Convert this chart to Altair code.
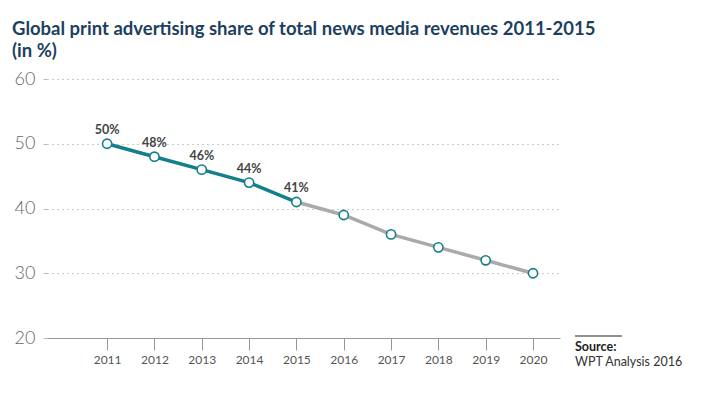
import altair as alt
import pandas as pd

years = [2011, 2012, 2013, 2014, 2015, 2016, 2017, 2018, 2019, 2020]
values = [50, 48, 46, 44, 41, 39, 36, 34, 32, 30]
labels = ["50%", "48%", "46%", "44%", "41%", "", "", "", "", ""]
actual_years = [2011, 2012, 2013, 2014, 2015]
forecast_years = [2015, 2016, 2017, 2018, 2019, 2020]
y_ticks = [20, 30, 40, 50, 60]
title_lines = ["Global print advertising share of total news media revenues 2011-2015", "(in %)"]
source_lines = ["Source:", "WPT Analysis 2016"]

df = pd.DataFrame({"year": years, "value": values, "label": labels})
df_actual = df[df.year.isin(actual_years)]
df_fore = df[df.year.isin(forecast_years)]

TEAL = "#137f8a"
FONT = "Lato"

x = alt.X("year:Q", scale=alt.Scale(domain=[2009.73, 2020.57], nice=False, zero=False),
          axis=alt.Axis(values=years, format="d", grid=False, domain=True, domainColor="#999",
                        domainWidth=1.2, tickColor="#999", tickSize=12, labelPadding=4,
                        labelFontSize=12, labelColor="#555", labelFont=FONT, title=None))
y = alt.Y("value:Q", scale=alt.Scale(domain=[20, 60], nice=False, zero=False),
          axis=alt.Axis(values=y_ticks, grid=True, gridDash=[1, 4], gridColor="#999",
                        domain=False, tickColor="#bbb", tickSize=4, labelPadding=8,
                        labelFontSize=18, labelColor="#666", labelFont=FONT,
                        labelFontWeight=300, title=None))

base = alt.Chart(df)
fore = alt.Chart(df_fore).mark_line(color="#aaaaaa", strokeWidth=3.5).encode(x=x, y=y)
act = alt.Chart(df_actual).mark_line(color=TEAL, strokeWidth=3.5).encode(x=x, y=y)
pts = base.mark_point(filled=True, fill="white", stroke=TEAL, strokeWidth=1.6, size=85, opacity=1).encode(x=x, y=y)
txt = base.mark_text(dy=-14, fontSize=12.5, fontWeight="bold", color="#444", font=FONT).encode(x=x, y=y, text="label:N")

src_df = pd.DataFrame({"t": source_lines, "w": ["bold", "normal"], "row": [0, 1]})
src1 = alt.Chart(src_df[src_df.row == 0]).mark_text(align="left", baseline="middle", fontSize=12.5,
        fontWeight="bold", color="#222", font=FONT).encode(
    x=alt.value(528), y=alt.value(268), text="t:N")
src2 = alt.Chart(src_df[src_df.row == 1]).mark_text(align="left", baseline="middle", fontSize=12.5,
        color="#333", font=FONT).encode(
    x=alt.value(528), y=alt.value(283), text="t:N")
src_rule = alt.Chart(src_df[src_df.row == 0]).mark_rule(color="#222", strokeWidth=1.2).encode(
    x=alt.value(528), x2=alt.value(575), y=alt.value(257))

chart = alt.layer(fore, act, pts, txt, src_rule, src1, src2).properties(
    width=513, height=259,
    autosize=alt.AutoSizeParams(type="none"),
    padding={"left": 39, "top": 71, "right": 137, "bottom": 47},
    title=alt.TitleParams(text=title_lines, anchor="start", frame="group", dx=-35,
                          fontSize=18.5, font=FONT, fontWeight="bold", color="#1d3f5e",
                          lineHeight=22, offset=10),
).configure_view(stroke=None)

chart.save("out.html", embed_options={"renderer": "svg", "actions": False})
